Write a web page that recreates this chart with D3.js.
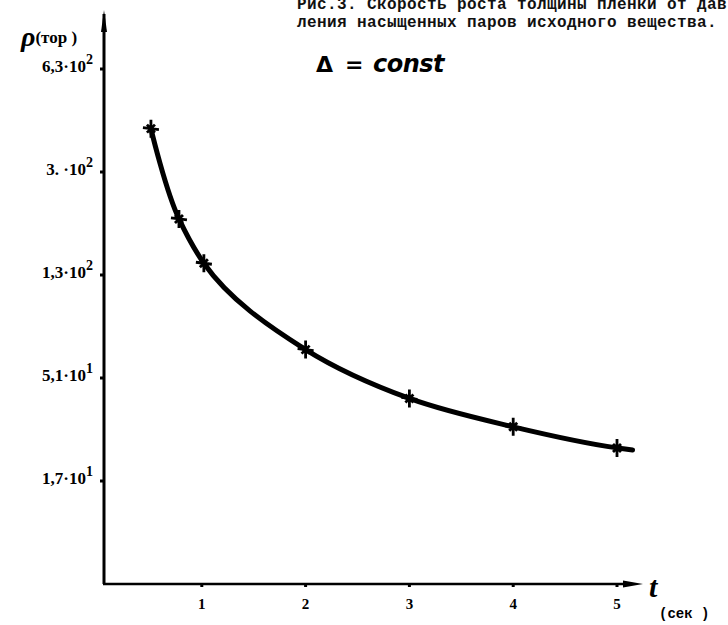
<!DOCTYPE html>
<html>
<head>
<meta charset="utf-8">
<script src="https://cdn.jsdelivr.net/npm/d3@7"></script>
<style>
  body { margin: 0; background: #fff; }
  svg { display: block; }
</style>
</head>
<body>
<div id="chart"></div>
<script>
// values: time (sec) vs pressure (torr)
var times = [0.51, 0.78, 1.02, 2.0, 3.0, 4.0, 5.0];
var pressures = [410, 205, 143, 66, 41, 30.3, 24.2];

// y axis marks are evenly spaced but labelled with uneven values
var yTickValues = [17, 51, 130, 300, 630];
var yTickMantissa = ["1,7·10", "5,1·10", "1,3·10", "3. ·10", "6,3·10"];
var yTickPower = ["1", "1", "2", "2", "2"];
var xTickValues = [1, 2, 3, 4, 5];

var width = 728, height = 625;
var y0 = 584, step = 103;

var svg = d3.select("#chart")
  .append("svg")
    .attr("width", width)
    .attr("height", height)
    .style("background", "#fff");

var x = d3.scaleLinear()
    .domain([0, 5])
    .range([98, 617]);

// piecewise log scale: each labelled value sits one step above the previous
var y = d3.scaleLog()
    .domain(yTickValues)
    .range(yTickValues.map(function(d, i) { return y0 - (i + 1) * step; }));

// the hand-drawn y axis sits a little right of t = 0
var x0 = x(0) + 6;

// caption (top line runs into the page edge, as in the scan)
var caption = svg.append("g")
    .style("font-family", "'Liberation Mono', 'DejaVu Sans Mono', monospace")
    .style("font-weight", "bold")
    .style("font-size", "16px")
    .style("letter-spacing", "0.4px")
    .attr("fill", "#111");
caption.append("text").attr("x", 297).attr("y", 9)
    .text("Рис.3. Скорость роста толщины пленки от дав-");
caption.append("text").attr("x", 297).attr("y", 27)
    .text("ления насыщенных паров исходного вещества.");

// y axis with arrow on top
svg.append("line")
    .attr("x1", x0).attr("x2", x0)
    .attr("y1", y0).attr("y2", 14)
    .attr("stroke", "#000")
    .attr("stroke-width", 3);
svg.append("path")
    .attr("d", "M" + x0 + ",10 L" + (x0 - 3) + ",32 L" + (x0 + 3) + ",32 Z")
    .attr("fill", "#000");

// x axis with arrow on the right
var xEnd = x(5) + 26;
svg.append("line")
    .attr("x1", x0 - 1).attr("x2", xEnd - 12)
    .attr("y1", y0).attr("y2", y0)
    .attr("stroke", "#000")
    .attr("stroke-width", 2.6);
svg.append("path")
    .attr("d", "M" + xEnd + "," + y0 + " L" + (xEnd - 20) + "," + (y0 - 3.5) +
               " L" + (xEnd - 20) + "," + (y0 + 3.5) + " Z")
    .attr("fill", "#000");

// y ticks
var yt = svg.append("g");
yt.selectAll("line")
  .data(yTickValues)
  .enter()
  .append("line")
    .attr("x1", x0 - 4).attr("x2", x0)
    .attr("y1", function(d) { return y(d); })
    .attr("y2", function(d) { return y(d); })
    .attr("stroke", "#000")
    .attr("stroke-width", 3);
var ylab = yt.selectAll("text")
  .data(yTickValues)
  .enter()
  .append("text")
    .attr("x", x0 - 11)
    .attr("y", function(d) { return y(d) + 3; })
    .attr("text-anchor", "end")
    .style("font-family", "'Liberation Serif', 'DejaVu Serif', serif")
    .style("font-weight", "bold")
    .style("font-size", "17px");
ylab.append("tspan").text(function(d, i) { return yTickMantissa[i]; });
ylab.append("tspan")
    .attr("dy", -8)
    .style("font-size", "14px")
    .text(function(d, i) { return yTickPower[i]; });

// x ticks
var xt = svg.append("g");
xt.selectAll("line")
  .data(xTickValues)
  .enter()
  .append("line")
    .attr("x1", function(d) { return x(d); })
    .attr("x2", function(d) { return x(d); })
    .attr("y1", y0).attr("y2", y0 + 3)
    .attr("stroke", "#000")
    .attr("stroke-width", 3);
xt.selectAll("text")
  .data(xTickValues)
  .enter()
  .append("text")
    .attr("x", function(d) { return x(d); })
    .attr("y", y0 + 25)
    .attr("text-anchor", "middle")
    .style("font-family", "'Liberation Serif', 'DejaVu Serif', serif")
    .style("font-weight", "bold")
    .style("font-size", "15px")
    .text(function(d) { return d; });

// axis titles
var rho = svg.append("text")
    .attr("x", 21).attr("y", 46)
    .style("font-family", "'Liberation Serif', serif");
rho.append("tspan")
    .style("font-style", "italic")
    .style("font-weight", "bold")
    .style("font-size", "28px")
    .text("ρ");
rho.append("tspan")
    .attr("dy", -3)
    .style("font-size", "17px")
    .style("font-weight", "bold")
    .text("(тор )");

svg.append("text")
    .attr("x", xEnd + 6).attr("y", y0 + 13)
    .style("font-family", "'Liberation Serif', serif")
    .style("font-style", "italic")
    .style("font-weight", "bold")
    .style("font-size", "30px")
    .text("t");
svg.append("text")
    .attr("x", xEnd + 16).attr("y", y0 + 34)
    .style("font-family", "'Liberation Mono', monospace")
    .style("font-weight", "bold")
    .style("font-size", "14px")
    .text("(сек )");

// Δ = const
var note = svg.append("g")
    .style("font-family", "'DejaVu Sans', sans-serif");
note.append("text")
    .attr("x", 316).attr("y", 72)
    .style("font-weight", "bold")
    .style("font-size", "22px")
    .text("Δ");
note.append("text")
    .attr("x", 345).attr("y", 72)
    .style("font-weight", "bold")
    .style("font-size", "22px")
    .text("=");
note.append("text")
    .attr("x", 373).attr("y", 72)
    .style("font-style", "italic")
    .style("font-weight", "bold")
    .style("font-size", "24px")
    .style("letter-spacing", "-0.5px")
    .text("const");

// curve through the measured points, with a short tail past the last one
var pts = times.map(function(t, i) { return [x(t), y(pressures[i])]; });
var n = pts.length;
var tail = [pts[n - 1][0] + (pts[n - 1][0] - pts[n - 2][0]) * 0.15,
            pts[n - 1][1] + (pts[n - 1][1] - pts[n - 2][1]) * 0.1];
var line = d3.line().curve(d3.curveCatmullRom.alpha(1));
svg.append("path")
    .attr("d", line(pts.concat([tail])))
    .attr("fill", "none")
    .attr("stroke", "#000")
    .attr("stroke-width", 5)
    .attr("stroke-linecap", "round");

// star markers
var star = "M0,-9 L0,9 M-8,-1 L8,1 M-4,-4 L4,4 M-4,4 L4,-4";
svg.selectAll(".mark")
  .data(times)
  .enter()
  .append("path")
    .attr("class", "mark")
    .attr("transform", function(t, i) { return "translate(" + x(t) + "," + y(pressures[i]) + ")"; })
    .attr("d", star)
    .attr("stroke", "#000")
    .attr("stroke-width", 2.8)
    .attr("fill", "none");
</script>
</body>
</html>
